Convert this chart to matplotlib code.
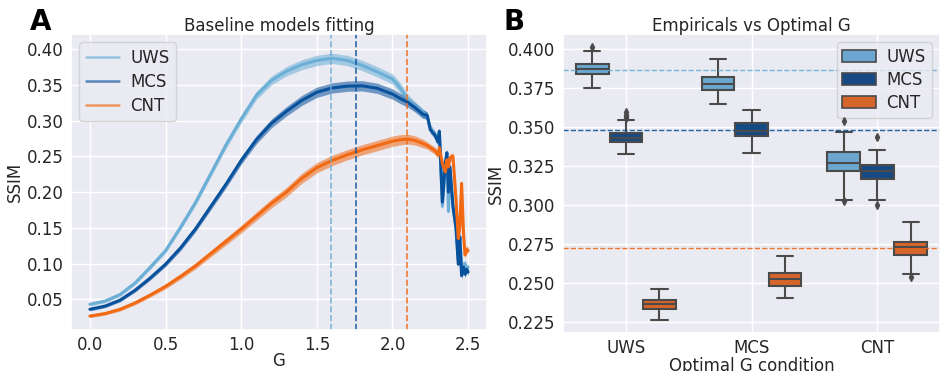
import matplotlib
matplotlib.use("Agg")
import matplotlib.pyplot as plt
import matplotlib.patches as mpatches
import seaborn as sns
import numpy as np

sns.set_theme(style="darkgrid")
plt.rcParams['font.family'] = ['DejaVu Sans']

# ---------------- Panel A data ----------------
g_values = [0.0, 0.1, 0.2, 0.3, 0.4, 0.5, 0.6, 0.7, 0.8, 0.9, 1.0, 1.1, 1.2, 1.3, 1.4,
            1.5, 1.6, 1.7, 1.8, 1.9, 2.0, 2.05, 2.1, 2.15, 2.2, 2.23, 2.25, 2.28, 2.3,
            2.31, 2.33, 2.35, 2.36, 2.37, 2.38, 2.4, 2.42, 2.435, 2.445, 2.457, 2.47,
            2.48, 2.49, 2.5]
ssim_uws = [0.043, 0.0474, 0.0567, 0.073, 0.095, 0.118, 0.151, 0.186, 0.226, 0.266,
            0.302, 0.335, 0.356, 0.369, 0.378, 0.384, 0.387, 0.384, 0.377, 0.368,
            0.358, 0.346, 0.330, 0.320, 0.311, 0.306, 0.290, 0.281, 0.272, 0.284,
            0.180, 0.238, 0.250, 0.173, 0.232, 0.178, 0.150, 0.105, 0.138, 0.100,
            0.097, 0.100, 0.092, 0.095]
ssim_mcs = [0.036, 0.0404, 0.0488, 0.0628, 0.080, 0.099, 0.122, 0.149, 0.180, 0.211,
            0.244, 0.273, 0.296, 0.313, 0.328, 0.3395, 0.3455, 0.348, 0.3485, 0.345,
            0.337, 0.331, 0.3256, 0.318, 0.309, 0.307, 0.287, 0.280, 0.270, 0.285,
            0.186, 0.242, 0.255, 0.200, 0.235, 0.180, 0.150, 0.099, 0.137, 0.083,
            0.095, 0.085, 0.092, 0.088]
ssim_cnt = [0.0265, 0.030, 0.036, 0.045, 0.056, 0.068, 0.082, 0.097, 0.114, 0.131,
            0.148, 0.166, 0.184, 0.200, 0.219, 0.234, 0.244, 0.252, 0.259, 0.265,
            0.271, 0.273, 0.274, 0.272, 0.268, 0.265, 0.262, 0.258, 0.252, 0.262,
            0.240, 0.228, 0.245, 0.235, 0.248, 0.250, 0.190, 0.135, 0.150, 0.212,
            0.140, 0.112, 0.120, 0.118]
spread = [0.0022, 0.0022, 0.0024, 0.0026, 0.003, 0.0034, 0.0038, 0.0042, 0.0046, 0.005,
          0.0054, 0.0058, 0.0062, 0.0066, 0.007, 0.0072, 0.0072, 0.0072, 0.0072, 0.0072,
          0.0072, 0.0072, 0.0068, 0.0064, 0.006, 0.005, 0.005, 0.005, 0.005, 0.005,
          0.005, 0.005, 0.005, 0.005, 0.005, 0.005, 0.005, 0.005, 0.005, 0.005,
          0.005, 0.005, 0.005, 0.005]
optimal_g = [1.592, 1.757, 2.098]

groups = ["UWS", "MCS", "CNT"]
line_colors = ["#6baed6", "#08519c", "#f16913"]
box_colors = ["#6aa6cf", "#174a85", "#d5652a"]

# ---------------- Panel B data (box statistics) ----------------
# order: [x-group][hue]
box_whislo = [[0.3752, 0.3331, 0.2263], [0.3651, 0.3335, 0.2408], [0.3032, 0.3036, 0.2558]]
box_q1     = [[0.3842, 0.3406, 0.2333], [0.3739, 0.3442, 0.2485], [0.3218, 0.3169, 0.2681]]
box_med    = [[0.3874, 0.3433, 0.2365], [0.3780, 0.3478, 0.2530], [0.3273, 0.3218, 0.2731]]
box_q3     = [[0.3904, 0.3463, 0.2395], [0.3824, 0.3526, 0.2564], [0.3340, 0.3260, 0.2765]]
box_whishi = [[0.3989, 0.3545, 0.2462], [0.3936, 0.3613, 0.2675], [0.3468, 0.3356, 0.2891]]
box_fliers = [[[0.4013], [0.3560, 0.3570, 0.3580, 0.3595], []],
              [[], [], []],
              [[0.3542, 0.3026], [0.3436, 0.3000], [0.2538]]]
ref_lines = [0.3869, 0.3481, 0.2729]

fig = plt.figure(figsize=(9.44, 3.71), dpi=100)
axA = fig.add_axes([0.0752, 0.1105, 0.4407, 0.7979])
axB = fig.add_axes([0.5964, 0.1024, 0.3994, 0.8060])

text_color = "0.15"
fs = 12

# ---- Panel A ----
g_arr = np.array(g_values)
sp = np.array(spread)
for name, vals, col in zip(groups, [ssim_uws, ssim_mcs, ssim_cnt], line_colors):
    v = np.array(vals)
    axA.fill_between(g_arr, v - sp, v + sp, color=col, alpha=0.55, lw=0)
    axA.plot(g_arr, v, color=col, lw=2.2)
for gx, col in zip(optimal_g, line_colors):
    axA.axvline(gx, color=col, ls="--", lw=1.2, alpha=0.85)
axA.set_xlim(-0.125, 2.625)
axA.set_ylim(0.007, 0.421)
axA.set_xticks([0.0, 0.5, 1.0, 1.5, 2.0, 2.5])
axA.set_xticklabels(["0.0", "0.5", "1.0", "1.5", "2.0", "2.5"])
axA.set_yticks([0.05, 0.10, 0.15, 0.20, 0.25, 0.30, 0.35, 0.40])
axA.set_yticklabels(["0.05", "0.10", "0.15", "0.20", "0.25", "0.30", "0.35", "0.40"])
axA.tick_params(axis="x", labelsize=fs, colors=text_color, length=0, pad=4)
axA.tick_params(axis="y", labelsize=fs, colors=text_color, length=0, pad=5.5)
axA.set_xlabel("G", fontsize=fs, color=text_color, labelpad=-1)
axA.set_ylabel("SSIM", fontsize=fs, color=text_color, labelpad=2)
axA.set_title("Baseline models fitting", fontsize=fs, color=text_color, pad=2)
handlesA = [plt.Line2D([], [], color=c, lw=1.8, alpha=0.65) for c in line_colors]
axA.legend(handlesA, groups, loc="upper left", fontsize=fs, handlelength=2.0,
           handletextpad=0.65, borderaxespad=0.5, labelspacing=0.35, borderpad=0.4)

# ---- Panel B ----
offsets = [-0.2667, 0.0, 0.2667]
edge = "#4a4a4a"
for i in range(3):
    for j in range(3):
        stats = [dict(whislo=box_whislo[i][j], q1=box_q1[i][j], med=box_med[i][j],
                      q3=box_q3[i][j], whishi=box_whishi[i][j], fliers=box_fliers[i][j])]
        axB.bxp(stats, positions=[i + offsets[j]], widths=[0.26], capwidths=[0.13],
                patch_artist=True, showfliers=True,
                boxprops=dict(facecolor=box_colors[j], edgecolor=edge, lw=1.5),
                whiskerprops=dict(color=edge, lw=1.5),
                capprops=dict(color=edge, lw=1.5),
                medianprops=dict(color=edge, lw=1.5),
                flierprops=dict(marker="d", markersize=4, markerfacecolor=edge,
                                markeredgecolor=edge, zorder=6))
for yv, col in zip(ref_lines, line_colors):
    axB.axhline(yv, color=col, ls="--", lw=1.0, alpha=0.9)
axB.set_xlim(-0.5, 2.5)
axB.set_ylim(0.2181, 0.4098)
axB.set_xticks([0, 1, 2])
axB.set_xticklabels(groups)
axB.set_yticks([0.225, 0.250, 0.275, 0.300, 0.325, 0.350, 0.375, 0.400])
axB.set_yticklabels(["0.225", "0.250", "0.275", "0.300", "0.325", "0.350", "0.375", "0.400"])
axB.tick_params(axis="x", labelsize=fs, colors=text_color, length=0, pad=4)
axB.tick_params(axis="y", labelsize=fs, colors=text_color, length=0, pad=5.5)
axB.set_xlabel("Optimal G condition", fontsize=fs, color=text_color, labelpad=0)
axB.set_ylabel("SSIM", fontsize=fs, color=text_color, labelpad=2)
axB.set_title("Empiricals vs Optimal G", fontsize=fs, color=text_color, pad=2)
handlesB = [mpatches.Patch(facecolor=c, edgecolor=edge, lw=1.2) for c in box_colors]
axB.legend(handlesB, groups, loc="upper right", fontsize=fs, handlelength=2.0,
           handletextpad=0.65, borderaxespad=0.5, labelspacing=0.3, borderpad=0.35)

fig.text(0.032, 0.92, "A", fontsize=20, fontweight="bold", color="black")
fig.text(0.533, 0.92, "B", fontsize=20, fontweight="bold", color="black")

fig.savefig("out.png", dpi=100)
